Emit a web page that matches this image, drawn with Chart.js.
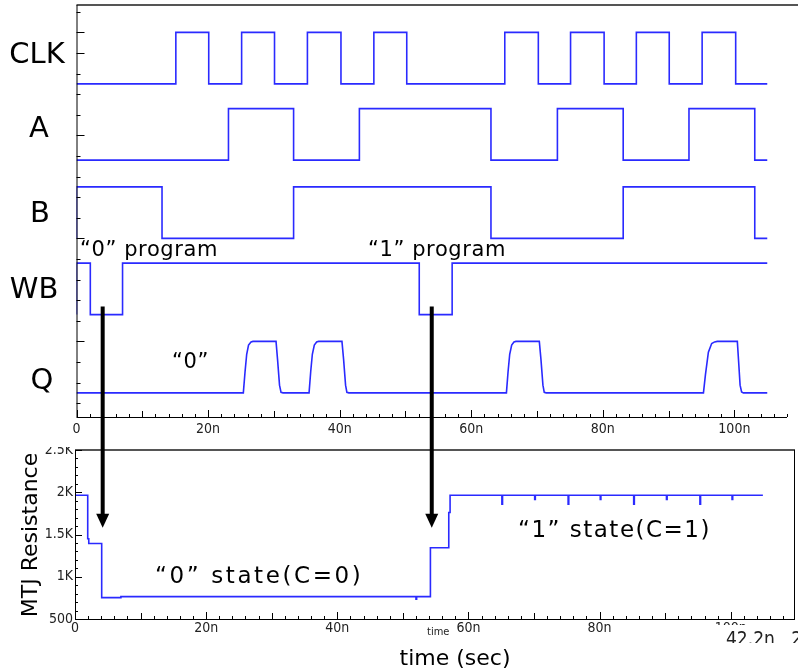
<!DOCTYPE html>
<html>
<head>
<meta charset="utf-8">
<script src="https://cdn.jsdelivr.net/npm/chart.js@4.4.0/dist/chart.umd.min.js"></script>
<style>
  html, body { margin: 0; padding: 0; background: #fff; }
  #wrap { position: relative; width: 798px; height: 672px; overflow: hidden; }
  #top { position: absolute; left: 0; top: 0; z-index: 2; }
  #bottom { position: absolute; left: 0; top: 440px; z-index: 1; }
</style>
</head>
<body>
<div id="wrap">
  <canvas id="top" width="798" height="447"></canvas>
  <canvas id="bottom" width="798" height="232"></canvas>
</div>
<script>
// ---- data (time in ns) ----
const clkT = [0, 15.1, 20.1, 25.1, 30.1, 35.1, 40.2, 45.2, 50.2, 65.1, 70.2, 75.1, 80.2, 85.1, 90.1, 95.1, 100.2, 105];
const clkV = [0, 1, 0, 1, 0, 1, 0, 1, 0, 1, 0, 1, 0, 1, 0, 1, 0, 0];

const aT = [0, 23.1, 33.0, 43.0, 63.0, 73.1, 83.1, 93.1, 103.1, 105];
const aV = [0, 1, 0, 1, 0, 1, 0, 1, 0, 0];

const bT = [0, 0, 13.0, 33.0, 63.0, 83.1, 103.1, 105];
const bV = [0, 1, 0, 1, 0, 1, 0, 0];

const wbT = [0, 0, 2.1, 7.0, 52.1, 57.1, 105];
const wbV = [0, 1, 0, 1, 0, 1, 1];

const qT = [0,
  25.36, 25.62, 25.87, 26.15, 26.53, 26.83, 30.33, 30.56, 30.86, 31.09, 31.4,
  35.35, 35.6, 35.85, 36.15, 36.5, 36.8, 40.35, 40.6, 40.9, 41.1, 41.4,
  65.35, 65.6, 65.85, 66.15, 66.5, 66.8, 70.35, 70.6, 70.9, 71.1, 71.4,
  95.3, 95.6, 96.05, 96.55, 97.0, 97.4, 100.45, 100.65, 100.87, 101.1, 101.37,
  105];
const qV = [0,
  0, 0.41, 0.75, 0.93, 0.99, 1, 1, 0.65, 0.15, 0.01, 0,
  0, 0.41, 0.75, 0.93, 0.99, 1, 1, 0.65, 0.15, 0.01, 0,
  0, 0.41, 0.75, 0.93, 0.99, 1, 1, 0.65, 0.15, 0.01, 0,
  0, 0.35, 0.79, 0.96, 0.99, 1, 1, 0.6, 0.15, 0.02, 0,
  0];

// MTJ resistance (ohm), value holds from each time onwards
const rT = [0, 1.94, 2.1, 4.07, 7.0, 52.0, 52.1, 54.2, 57.0, 57.2, 65.1, 65.2, 70.1, 70.2, 75.2, 75.3,
  80.1, 80.2, 85.2, 85.3, 90.2, 90.3, 95.3, 95.4, 100.2, 100.3, 104.9];
const rV = [1965, 1450, 1394, 753, 765, 735, 765, 1343, 1760, 1965, 1858, 1965, 1915, 1965, 1858, 1965,
  1915, 1965, 1858, 1965, 1915, 1965, 1858, 1965, 1915, 1965, 1965];

const signalNames = ['CLK', 'A', 'B', 'WB', 'Q'];
const laneBase = [15.5, 11.8, 8.0, 4.3, 0.5];
const laneSwing = 2.5;

const timeTicks = [0, 20, 40, 60, 80, 100];
const timeLabels = ['0', '20n', '40n', '60n', '80n', '100n'];
const resTicks = [500, 1000, 1500, 2000, 2500];
const resLabels = ['500', '1K', '1.5K', '2K', '2.5K'];

// arrow times (ns)
const arrowT = [3.98, 54.0];

const BLUE = '#2a2aff';
const MAIN = '"DejaVu Sans", Verdana, sans-serif';
const NARROW = '"Liberation Sans Narrow", "DejaVu Sans Condensed", sans-serif';

function toPoints(ts, vs, base, swing) {
  return ts.map((t, i) => ({ x: t, y: base + vs[i] * swing }));
}

function line(ctx, x1, y1, x2, y2) {
  ctx.beginPath();
  ctx.moveTo(x1, y1);
  ctx.lineTo(x2, y2);
  ctx.stroke();
}

function drawXTicks(ctx, x, a, max) {
  ctx.strokeStyle = '#000';
  ctx.lineWidth = 1;
  for (let t = 0; t <= max; t += 2) {
    const px = Math.round(x.getPixelForValue(t)) + 0.5;
    const len = t % 20 === 0 ? 7 : (t % 10 === 0 ? 6 : 3);
    line(ctx, px, a.bottom, px, a.bottom - len);
  }
}

function drawXLabels(ctx, x, baseline) {
  ctx.fillStyle = '#222';
  ctx.font = '14px ' + NARROW;
  ctx.textAlign = 'center';
  ctx.textBaseline = 'alphabetic';
  timeTicks.forEach((t, i) => ctx.fillText(timeLabels[i], x.getPixelForValue(t), baseline));
}

let topChart;

const topDecor = {
  id: 'topDecor',
  beforeDraw(chart) {
    const ctx = chart.ctx;
    ctx.save();
    ctx.fillStyle = '#fff';
    ctx.fillRect(0, 0, chart.width, chart.height);
    ctx.restore();
  },
  afterDraw(chart) {
    const { ctx, chartArea: a, scales: { x, y } } = chart;
    ctx.save();
    // frame
    ctx.strokeStyle = '#555';
    ctx.lineWidth = 2;
    line(ctx, a.left, a.top, chart.width, a.top);
    ctx.strokeStyle = '#000';
    ctx.lineWidth = 1;
    line(ctx, a.left + 0.5, a.top, a.left + 0.5, a.bottom);
    line(ctx, a.left, a.bottom + 0.5, a.right, a.bottom + 0.5);
    // left ticks
    const longTicks = [3, 8, 13, 17, 18];
    for (let k = 0; k <= 19; k++) {
      const py = Math.round(y.getPixelForValue(k)) + 0.5;
      line(ctx, a.left, py, a.left + (longTicks.includes(k) ? 8 : 4), py);
    }
    drawXTicks(ctx, x, a, 108);
    drawXLabels(ctx, x, 433);

    // signal names
    ctx.fillStyle = '#000';
    ctx.font = '29px ' + MAIN;
    ctx.textAlign = 'center';
    const nameX = [37, 39, 40, 34, 42];
    const nameY = [63, 137, 222, 298, 389];
    signalNames.forEach((n, i) => ctx.fillText(n, nameX[i], nameY[i]));

    // annotations
    ctx.font = '21px ' + MAIN;
    ctx.textAlign = 'left';
    ctx.letterSpacing = '0.6px';
    ctx.fillText('\u201c0\u201d program', 80, 256);
    ctx.fillText('\u201c1\u201d program', 368, 256);
    ctx.fillText('\u201c0\u201d', 172, 368);
    ctx.letterSpacing = '0px';

    // arrows (upper part)
    ctx.strokeStyle = '#000';
    ctx.lineWidth = 4;
    arrowT.forEach(t => {
      const px = x.getPixelForValue(t);
      line(ctx, px, y.getPixelForValue(4.7), px, chart.height);
    });
    ctx.restore();
  }
};

const bottomDecor = {
  id: 'bottomDecor',
  beforeDraw(chart) {
    const ctx = chart.ctx;
    ctx.save();
    ctx.fillStyle = '#fff';
    ctx.fillRect(0, 0, chart.width, chart.height);
    ctx.restore();
  },
  afterDraw(chart) {
    const { ctx, chartArea: a, scales: { x, y } } = chart;
    ctx.save();
    // box
    ctx.strokeStyle = '#555';
    ctx.lineWidth = 2;
    line(ctx, a.left, a.top, a.right, a.top);
    ctx.strokeStyle = '#000';
    ctx.lineWidth = 1;
    line(ctx, a.right - 0.5, a.top, a.right - 0.5, a.bottom);
    line(ctx, a.left + 0.5, a.top, a.left + 0.5, a.bottom);
    line(ctx, a.left, a.bottom + 0.5, a.right, a.bottom + 0.5);
    // y ticks
    for (let v = 500; v <= 2500; v += 100) {
      const py = Math.round(y.getPixelForValue(v)) + 0.5;
      line(ctx, a.left, py, a.left + (v % 500 === 0 ? 7 : 3), py);
    }
    ctx.fillStyle = '#222';
    ctx.font = '14px ' + NARROW;
    ctx.textAlign = 'right';
    ctx.textBaseline = 'middle';
    resTicks.forEach((v, i) => ctx.fillText(resLabels[i], a.left - 2, y.getPixelForValue(v)));
    ctx.textBaseline = 'alphabetic';

    drawXTicks(ctx, x, a, 108);
    drawXLabels(ctx, x, 192);

    // stray screen-capture texts
    ctx.font = '11px ' + NARROW;
    ctx.textAlign = 'left';
    ctx.fillText('time', 427, 195);
    ctx.fillStyle = '#fff';
    ctx.fillRect(714, 185, 84, 20);
    ctx.fillStyle = '#222';
    ctx.font = '19px ' + NARROW;
    ctx.fillText('42.2n   2.', 726, 205);
    ctx.fillStyle = '#fff';
    ctx.fillRect(714, 203, 84, 8);

    // axis titles
    ctx.fillStyle = '#000';
    ctx.font = '22px ' + MAIN;
    ctx.textAlign = 'center';
    ctx.fillText('time (sec)', 455, 225);
    ctx.save();
    ctx.translate(37, 95);
    ctx.rotate(-Math.PI / 2);
    ctx.fillText('MTJ Resistance', 0, 0);
    ctx.restore();

    // state labels
    ctx.font = '23px ' + MAIN;
    ctx.textAlign = 'left';
    ctx.letterSpacing = '2.6px';
    ctx.fillText('\u201c0\u201d state(C=0)', 155, 143);
    ctx.letterSpacing = '1.5px';
    ctx.fillText('\u201c1\u201d state(C=1)', 518, 97);
    ctx.letterSpacing = '0px';

    // arrows (lower part)
    ctx.strokeStyle = '#000';
    ctx.fillStyle = '#000';
    ctx.lineWidth = 4;
    arrowT.forEach(t => {
      const px = topChart.scales.x.getPixelForValue(t);
      const tip = y.getPixelForValue(1580);
      line(ctx, px, 0, px, tip - 10);
      ctx.beginPath();
      ctx.moveTo(px - 6.5, tip - 14);
      ctx.lineTo(px + 6.5, tip - 14);
      ctx.lineTo(px, tip);
      ctx.closePath();
      ctx.fill();
    });
    ctx.restore();
  }
};

function lineDs(points, stepped) {
  return {
    data: points,
    borderColor: BLUE,
    borderWidth: 1.6,
    pointRadius: 0,
    stepped: stepped,
    tension: 0,
    fill: false
  };
}

const hiddenLinear = (min, max) => ({ type: 'linear', min: min, max: max, display: false });

topChart = new Chart(document.getElementById('top'), {
  type: 'line',
  data: {
    datasets: [
      lineDs(toPoints(clkT, clkV, laneBase[0], laneSwing), 'before'),
      lineDs(toPoints(aT, aV, laneBase[1], laneSwing), 'before'),
      lineDs(toPoints(bT, bV, laneBase[2], laneSwing), 'before'),
      lineDs(toPoints(wbT, wbV, laneBase[3], laneSwing), 'before'),
      lineDs(toPoints(qT, qV, laneBase[4], laneSwing), false)
    ]
  },
  options: {
    responsive: false,
    animation: false,
    layout: { padding: { left: 76.5, right: 11, top: 5, bottom: 30 } },
    scales: { x: hiddenLinear(0, 108), y: hiddenLinear(-0.67, 19.33) },
    plugins: { legend: { display: false }, tooltip: { enabled: false } }
  },
  plugins: [topDecor]
});

new Chart(document.getElementById('bottom'), {
  type: 'line',
  data: {
    datasets: [lineDs(rT.map((t, i) => ({ x: t, y: rV[i] })), 'before')]
  },
  options: {
    responsive: false,
    animation: false,
    layout: { padding: { left: 75, right: 3, top: 10, bottom: 53 } },
    scales: { x: hiddenLinear(0, 109.8), y: hiddenLinear(500, 2500) },
    plugins: { legend: { display: false }, tooltip: { enabled: false } }
  },
  plugins: [bottomDecor]
});
</script>
</body>
</html>
